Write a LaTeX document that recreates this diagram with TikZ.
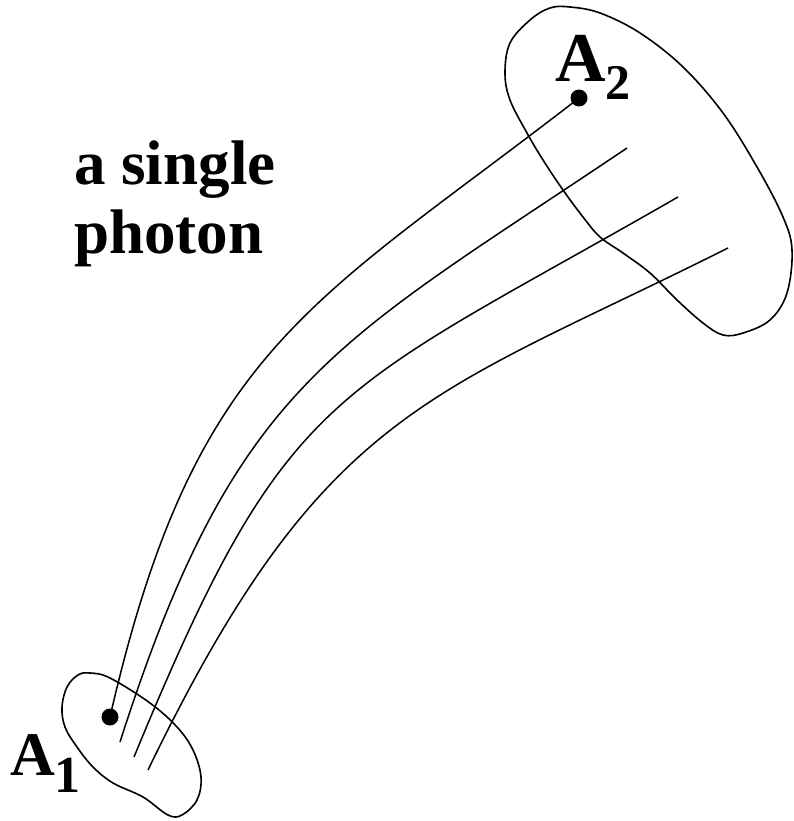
\documentclass[tikz,border=0pt]{standalone}
\usepackage{fontspec}
\setmainfont{Liberation Serif}
\begin{document}
\begin{tikzpicture}[x=1pt,y=-1pt,
  ray/.style={line width=1.5pt},
  blob/.style={line width=1.6pt},
  lbl/.style={inner sep=0pt,anchor=base west,font=\bfseries}]
\useasboundingbox (0,0) rectangle (793,821);
% blobs
\draw[blob] plot[smooth cycle,tension=0.6] coordinates {
 (90,673) (110,678) (150,703) (177,727) (193,750) (201,777) (197,800) (182,815) (168,815)
 (143,797) (113,783) (93,767) (77,747) (65,727) (62,707) (67,687) (78,675)};
\draw[blob] plot[smooth cycle,tension=0.6] coordinates {
 (570,7) (600,13) (640,33) (683,67) (723,113) (757,167) (783,217) (792,250) (787,293)
 (770,320) (743,333) (723,335) (703,323) (677,300) (650,273) (623,253) (600,237)
 (583,217) (563,190) (543,160) (527,133) (510,100) (505,73) (510,43) (530,20) (550,8)};
% end points
\fill (110,717) circle (8.5) coordinate (s1);
\fill (579,98) circle (8.5) coordinate (e1);
\coordinate (s2) at (120,742); \coordinate (e2) at (627,148);
\coordinate (s3) at (134,757); \coordinate (e3) at (678,197);
\coordinate (s4) at (148,770); \coordinate (e4) at (728,248);
% rays
\draw[ray] (s1) .. controls (195,346) and (312,305) .. (e1);
\draw[ray] (s2) .. controls (236,380) and (333,346) .. (e2);
\draw[ray] (s3) .. controls (288,383) and (330,397) .. (e3);
\draw[ray] (s4) .. controls (324,406) and (431,397) .. (e4);
% labels
\node[lbl,font=\fontsize{63}{63}\selectfont\bfseries] (t1) at (74,185) {a single};
\node[lbl,font=\fontsize{63}{63}\selectfont\bfseries] (t2) at (74,253) {photon};
\node[lbl,font=\fontsize{70}{70}\selectfont\bfseries] (a2) at (555,82) {A\raisebox{-18pt}{\fontsize{50}{50}\selectfont 2}};
\node[lbl,font=\fontsize{62}{62}\selectfont\bfseries] (a1) at (10,775) {A\raisebox{-17pt}{\fontsize{52}{52}\selectfont 1}};
\end{tikzpicture}
\end{document}
